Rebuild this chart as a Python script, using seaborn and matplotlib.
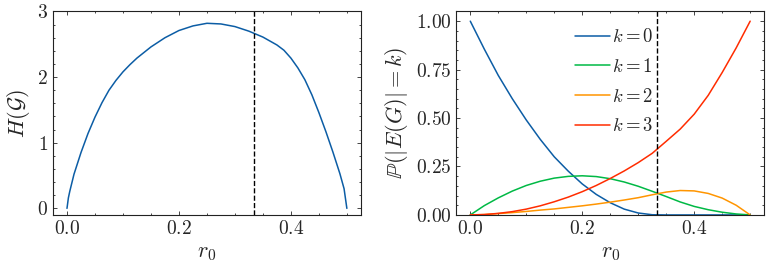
import numpy as np
import pandas as pd
import matplotlib
matplotlib.use("Agg")
import matplotlib.pyplot as plt
import seaborn as sns

# values
r_h = [0, 0.0025, 0.005, 0.0125, 0.025, 0.0375, 0.05, 0.0625, 0.075, 0.0875,
       0.1, 0.1125, 0.125, 0.15, 0.175, 0.2, 0.225, 0.25, 0.275, 0.3, 0.325,
       0.35, 0.375, 0.3875, 0.4, 0.4125, 0.425, 0.4375, 0.45, 0.4625, 0.475,
       0.4875, 0.495, 0.5]
H = [0, 0.16, 0.26, 0.52, 0.85, 1.14, 1.39, 1.61, 1.80, 1.95,
     2.08, 2.19, 2.29, 2.46, 2.60, 2.71, 2.78, 2.82, 2.81, 2.77, 2.70,
     2.61, 2.49, 2.41, 2.29, 2.14, 1.96, 1.73, 1.46, 1.17, 0.86,
     0.53, 0.30, 0]

r_p = [0, 0.025, 0.05, 0.075, 0.1, 0.125, 0.15, 0.175, 0.2, 0.225, 0.25,
       0.275, 0.3, 0.325, 0.35, 0.375, 0.4, 0.425, 0.45, 0.475, 0.5]
p_k0 = [1.0, 0.856, 0.72, 0.60, 0.49, 0.39, 0.30, 0.226, 0.16, 0.106, 0.063,
        0.03, 0.01, 0.001, 0, 0, 0, 0, 0, 0, 0]
p_k1 = [0, 0.048, 0.088, 0.123, 0.152, 0.174, 0.19, 0.199, 0.202, 0.198, 0.187,
        0.17, 0.148, 0.122, 0.095, 0.067, 0.044, 0.027, 0.014, 0.005, 0]
p_k2 = [0, 0.002, 0.007, 0.012, 0.018, 0.025, 0.031, 0.039, 0.047, 0.056, 0.066,
        0.077, 0.089, 0.104, 0.118, 0.126, 0.124, 0.111, 0.087, 0.05, 0]
p_k3 = [0, 0.002, 0.008, 0.017, 0.03, 0.047, 0.068, 0.092, 0.12, 0.152, 0.188,
        0.227, 0.27, 0.318, 0.38, 0.443, 0.52, 0.617, 0.735, 0.862, 1.0]
k_labels = ['$k=0$', '$k=1$', '$k=2$', '$k=3$']
r_star = 1 / 3

colors = ['#0C5DA5', '#00B945', '#FF9500', '#FF2C00']

sns.set_style('ticks')
plt.rcParams.update({
    'font.family': 'serif',
    'font.serif': ['cmr10', 'DejaVu Serif'],
    'mathtext.fontset': 'cm',
    'axes.formatter.use_mathtext': True,
    'axes.unicode_minus': False,
    'axes.linewidth': 0.8,
    'axes.edgecolor': '#222222',
    'xtick.direction': 'in', 'ytick.direction': 'in',
    'xtick.top': True, 'ytick.right': True,
    'xtick.minor.visible': True, 'ytick.minor.visible': True,
    'xtick.major.size': 3, 'ytick.major.size': 3,
    'xtick.minor.size': 1.5, 'ytick.minor.size': 1.5,
    'xtick.major.width': 0.6, 'ytick.major.width': 0.6,
    'xtick.minor.width': 0.6, 'ytick.minor.width': 0.6,
    'xtick.labelsize': 14, 'ytick.labelsize': 14,
})

df_h = pd.DataFrame({'r0': r_h, 'H': H})
df_p = pd.concat([
    pd.DataFrame({'r0': r_p, 'P': vals, 'k': lab})
    for vals, lab in zip([p_k0, p_k1, p_k2, p_k3], k_labels)
])

fig, (ax1, ax2) = plt.subplots(1, 2, figsize=(7.68, 2.67), dpi=100)
fig.subplots_adjust(left=0.069, right=0.995, top=0.957, bottom=0.195, wspace=0.31)

sns.lineplot(data=df_h, x='r0', y='H', ax=ax1, color=colors[0], linewidth=1.1)
ax1.axvline(r_star, color='black', linestyle='--', linewidth=1.0)
ax1.set_ylim(-0.1, 3)
ax1.set_xlim(-0.025, 0.525)
ax1.set_xticks([0.0, 0.2, 0.4])
ax1.set_yticks([0, 1, 2, 3])
ax1.set_xlabel('$r_0$', fontsize=16)
ax1.set_ylabel(r'$H(\mathcal{G})$', fontsize=16)

sns.lineplot(data=df_p, x='r0', y='P', hue='k', palette=colors, ax=ax2, linewidth=1.1)
ax2.axvline(r_star, color='black', linestyle='--', linewidth=1.0)
ax2.set_ylim(0, 1.05)
ax2.set_xlim(-0.025, 0.525)
ax2.set_xticks([0.0, 0.2, 0.4])
ax2.set_yticks([0.0, 0.25, 0.5, 0.75, 1.0])
ax2.set_xlabel('$r_0$', fontsize=16)
ax2.set_ylabel(r'$\mathbb{P}(|E(G)|=k)$', fontsize=16)
ax2.legend(frameon=False, loc='upper left', bbox_to_anchor=(0.33, 1.0),
           fontsize=13.5, handlelength=1.9, handletextpad=0.1, labelspacing=0.62)

for ax in (ax1, ax2):
    for sp in ax.spines.values():
        sp.set_visible(True)

fig.savefig('out.png', dpi=100)
